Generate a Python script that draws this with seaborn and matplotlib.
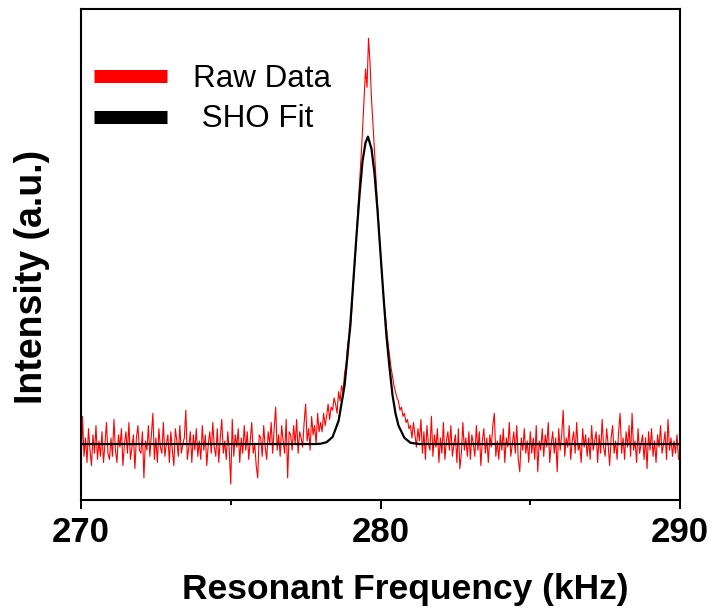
import numpy as np
import pandas as pd
import matplotlib
matplotlib.use("Agg")
import matplotlib.pyplot as plt
from matplotlib.lines import Line2D
import seaborn as sns

# ---------------- data ----------------
freq_start = 270.0
freq_stop = 290.0
n_points = 401  # sampling grid, 0.05 kHz

raw_intensity = [
    -8, 9, -4, 2, -6, 5, -2, -7, 3, -3, 6, -5, 1, -4, 4, -6, 0, 7, -3, -5,
    2, -4, 8, -2, -6, 3, -1, 5, -7, 0, 4, -3, 7, -5, -1, 3, -8, 2, 6, -2,
    -3, 4, -11, 1, -2, 6, -4, 3, 10, -5, 2, -6, 5, -1, -3, 7, -4, 0, 3, -6,
    4, -2, -7, 5, 1, -4, 6, -3, 0, 2, 11, -5, -1, 4, -6, 3, -2, 5, -4, 1,
    -5, 6, -2, 3, -7, 0, 4, -3, 7, -1, -4, 5, -6, 2, 8, -3, 1, -5, 4, -2,
    -13, 8, -4, 3, -1, 5, -6, 2, -3, 6, -2, 4, -5, 1, 7, -3, 0, -7, -11, 3,
    2, -4, 6, -1, -5, 4, 0, 7, -3, 5, 12, -2, 3, -4, 6, 1, -3, 8, -11, 4,
    3, -2, 6, 0, 8, -3, 4, 2, -1, 7, 13, 1, 5, -2, 9, 3, 6, 0, 10, 4,
    7, 4, 10, 6, 9, 13, 8, 12, 11, 15, 13, 10, 17, 14, 19, 17, 23, 26, 32, 35,
    37, 45, 53, 60, 68, 77, 85, 93, 102, 112, 122, 116, 132, 124, 112, 104, 95, 86, 78, 70,
    62, 55, 48, 43, 38, 33, 29, 25, 22, 19, 17, 15, 14, 11, 12, 9, 10, 7, 8, 5,
    6, 2, 7, 3, -1, 5, 1, 8, -3, 4, -5, 6, 0, -2, 9, -4, 3, -1, 5, -6,
    2, -3, 7, -5, 1, 4, -2, 6, -4, 0, 3, -6, 5, -8, -3, 7, -2, 2, -4, 4,
    -5, 3, 0, -4, 6, -2, 4, -7, 1, 5, -3, 2, -6, 3, -1, 6, 10, -4, 1, -5,
    3, -2, 5, -6, 2, -1, 7, -4, 0, 4, -3, 6, -5, -9, 2, -2, 5, -3, 1, -6,
    4, -3, 2, -5, 6, -9, 1, -2, 5, -4, 3, -1, 7, -6, 0, 4, -3, 2, -9, 5,
    -2, 3, 11, -4, 2, -1, 6, -5, 1, 4, -3, 7, -2, 0, -6, 5, -1, 3, -4, 2,
    -5, 6, -2, 1, 4, -6, 3, -3, 8, -1, -4, 5, 0, -7, 2, 6, -3, 1, -5, 4,
    10, -3, 2, -5, 4, -1, 6, -4, 10, -2, 1, -6, 5, -3, 0, 3, -5, 2, -8, 4,
    -2, 5, -4, 1, -6, 3, -1, 6, -3, 0, 4, -5, 8, -2, 2, -4, 1, -3, 3, -5,
    -4,
]

fit_freq = [270.0, 277.8, 278.0, 278.2, 278.4, 278.6, 278.8, 278.9, 279.0,
            279.1, 279.2, 279.3, 279.4, 279.5, 279.58, 279.7, 279.8, 279.9,
            280.0, 280.1, 280.2, 280.3, 280.4, 280.5, 280.6, 280.8, 281.0,
            281.3, 290.0]
fit_intensity = [0, 0, 0.1, 0.6, 2.3, 7.5, 19, 29, 40,
                 54, 68, 81, 92, 98, 100, 96, 88, 76,
                 62, 48, 35, 25, 16, 10, 6, 2, 0.4,
                 0, 0]

legend_labels = ["Raw Data", " SHO Fit"]
x_ticks = [270, 280, 290]
x_minor_ticks = [275, 285]

# ---------------- figure ----------------
sns.set_style("white")
plt.rcParams["font.family"] = ["Liberation Sans", "DejaVu Sans"]
plt.rcParams["text.color"] = "black"
plt.rcParams["axes.labelcolor"] = "black"
plt.rcParams["xtick.color"] = "black"
plt.rcParams["ytick.color"] = "black"

fig = plt.figure(figsize=(7.12, 6.11), dpi=100)
ax = fig.add_axes([81 / 712, 1 - 500 / 611, 599 / 712, 491 / 611])

raw_df = pd.DataFrame({
    "freq": np.linspace(freq_start, freq_stop, n_points),
    "intensity": raw_intensity,
})
fit_df = pd.DataFrame({"freq": fit_freq, "intensity": fit_intensity})

sns.lineplot(data=raw_df, x="freq", y="intensity", color="#ff0000",
             linewidth=0.8, ax=ax, zorder=2)
sns.lineplot(data=fit_df, x="freq", y="intensity", color="black",
             linewidth=1.6, ax=ax, zorder=3)

ax.set_xlim(270, 290)
ax.set_ylim(-18.2, 141.5)

ax.set_xticks(x_ticks)
ax.set_xticks(x_minor_ticks, minor=True)
ax.set_xticklabels([str(t) for t in x_ticks])
ax.set_yticks([])
ax.tick_params(axis="x", which="major", direction="out", length=6.5,
               width=1.4, pad=5, labelsize=25, bottom=True, top=False,
               colors="black")
ax.tick_params(axis="x", which="minor", direction="out", length=3.6,
               width=1.4, bottom=True, top=False, colors="black")
for lab in ax.get_xticklabels():
    lab.set_fontweight("bold")

for sp in ax.spines.values():
    sp.set_visible(True)
    sp.set_linewidth(1.5)
    sp.set_color("black")

ax.set_xlabel("Resonant Frequency (kHz)", fontsize=25.5, fontweight="bold",
              labelpad=17, color="black")
ax.xaxis.label.set_x((405 - 81) / 599)
ax.set_ylabel("Intensity (a.u.)", fontsize=27, fontweight="bold",
              labelpad=22, color="black")
ax.yaxis.label.set_y((500 - 276.5) / 491)

handles = [Line2D([], [], color="#ff0000", lw=9.4, solid_capstyle="butt"),
           Line2D([], [], color="black", lw=9.4, solid_capstyle="butt")]
leg = ax.legend(handles, legend_labels, loc="upper left",
                bbox_to_anchor=(0.0217, 0.889), frameon=False, fontsize=22.6,
                handlelength=2.32, handletextpad=0.83, labelspacing=0.35,
                borderpad=0, borderaxespad=0)
for t in leg.get_texts():
    t.set_color("black")

fig.savefig("out.png", dpi=100)
